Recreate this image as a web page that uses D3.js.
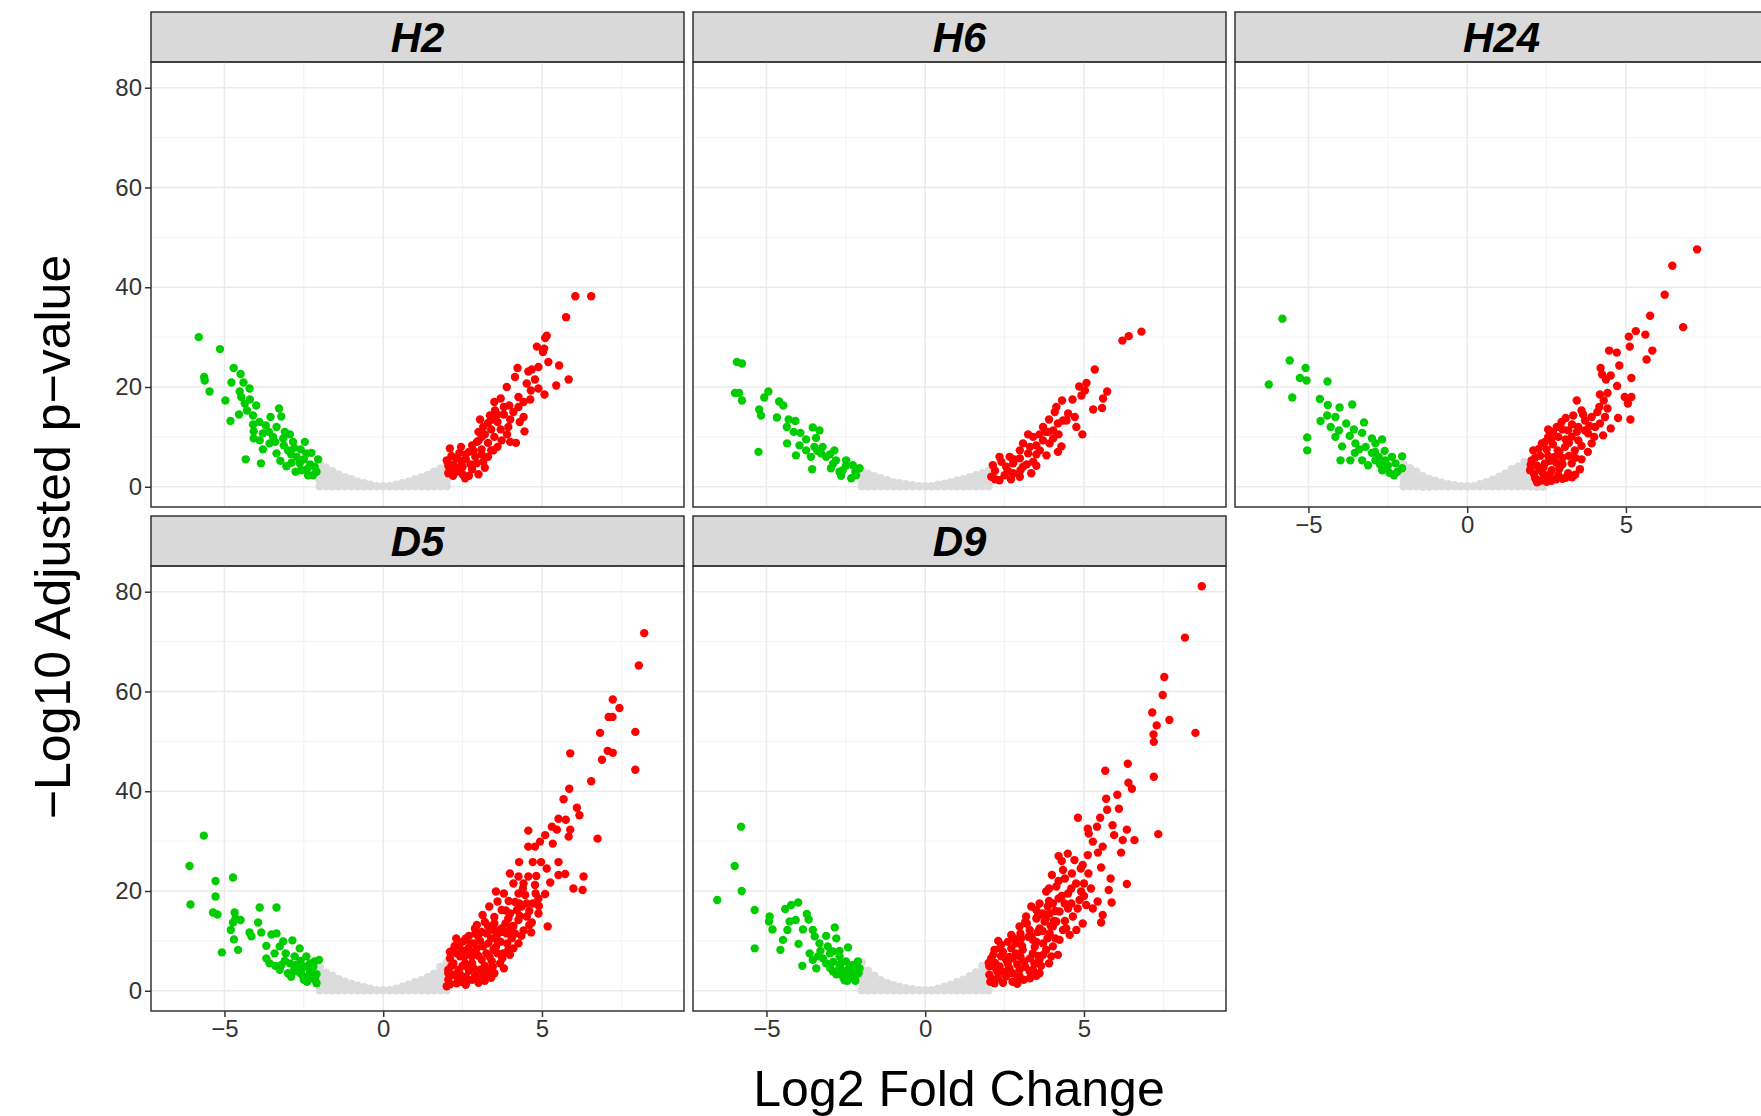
<!DOCTYPE html>
<html>
<head>
  <meta charset="UTF-8" />
  <title>Volcano plots</title>
  <style>
    body { margin: 0; background: #fff; }
    svg { display: block; font-family: "Liberation Sans", Arial, sans-serif; }
  </style>
</head>
<body>
<svg width="1761" height="1116"></svg>

<script src="https://cdn.jsdelivr.net/npm/d3@7"></script>
<script>
  // facet names, in plotting order
  const facets = ["H2", "H6", "H24", "D5", "D9"];

  const xTicks = [-5, 0, 5];
  const xMinor = [-7.5, -2.5, 2.5, 7.5];
  const yTicks = [0, 20, 40, 60, 80];
  const yMinor = [10, 30, 50, 70];

  // [log2FC, -log10 padj]
  const h2Down = [[-5.81,30.0],[-5.14,27.6],[-5.64,22.0],[-5.62,21.3],[-5.47,19.1],[-4.71,23.8],[-4.49,22.6],[-4.78,20.9],[-4.4,20.9],[-4.21,19.7],[-4.52,19.1],[-4.97,17.3],[-4.47,18.0],[-4.36,16.7],[-4.0,16.3],[-4.29,15.3],[-4.54,14.5],[-4.81,13.2],[-4.1,14.3],[-3.28,15.7],[-3.21,14.1],[-3.55,14.0],[-4.1,12.5],[-3.7,12.3],[-3.36,12.0],[-4.08,11.1],[-3.79,10.7],[-2.94,10.5],[-4.08,9.7],[-3.47,10.0],[-3.79,7.5],[-4.33,5.5],[-3.85,4.7],[-2.47,9.0],[-2.84,9.0],[-3.13,8.3],[-3.36,6.7],[-3.24,5.2],[-3.05,4.1],[-2.73,6.0],[-2.42,6.7],[-2.26,6.8],[-2.05,5.5],[-2.16,4.0],[-2.58,3.3],[-2.37,2.3],[-2.76,3.0],[-2.21,2.3],[-2.89,4.8],[-2.63,4.7],[-3.58,8.7],[-3.89,9.3],[-3.0,7.3],[-3.15,9.7],[-2.5,5.5],[-2.3,4.5],[-2.1,3.0],[-2.6,7.5],[-2.9,6.5],[-3.1,11.0],[-3.6,11.0],[-3.9,13.0],[-4.2,17.5],[-2.4,3.5],[-2.8,7.8],[-3.4,9.0]];
  const h2Up = [[6.05,38.2],[6.55,38.2],[5.76,34.0],[5.15,30.3],[5.1,29.8],[4.84,28.1],[5.07,27.7],[5.03,27.0],[5.2,25.0],[5.54,24.3],[4.23,23.8],[4.89,24.0],[4.68,23.5],[4.57,23.1],[4.15,22.0],[4.78,21.5],[5.84,21.5],[4.52,20.7],[3.89,20.0],[4.89,19.7],[4.65,19.3],[5.45,20.3],[5.08,18.5],[4.26,18.0],[3.7,17.7],[4.63,17.5],[4.42,17.0],[3.97,16.3],[4.26,16.0],[3.52,15.3],[4.1,15.0],[4.42,14.0],[3.36,14.3],[3.05,13.5],[3.94,12.0],[4.45,11.1],[4.18,8.8],[3.73,9.3],[3.47,7.3],[3.0,2.5],[2.58,1.7],[2.94,4.7],[2.1,7.7],[2.0,5.3],[2.05,2.7],[2.1,3.5],[2.2,4.5],[2.3,5.8],[2.4,6.8],[2.3,3.0],[2.5,4.0],[2.6,5.5],[2.7,7.0],[2.5,2.5],[2.8,3.5],[2.9,6.0],[2.8,8.3],[3.0,9.2],[3.1,7.5],[3.2,10.5],[3.3,8.8],[3.4,11.5],[3.5,10.0],[3.6,13.0],[3.7,11.5],[3.8,14.5],[3.3,6.0],[3.6,8.0],[3.9,10.5],[4.0,13.5],[3.15,5.0],[2.7,2.2],[2.2,2.2],[2.45,8.0],[3.0,11.0],[3.5,17.0],[3.8,16.0],[4.3,13.0],[4.0,9.0],[3.2,3.8],[2.05,4.2],[2.15,6.2],[2.35,3.8],[2.45,5.2],[2.6,6.5],[2.75,4.5],[2.85,7.2],[2.95,9.0],[3.1,10.0],[3.15,12.0],[3.3,12.8],[3.45,13.5],[3.6,14.5],[3.1,6.5],[3.4,7.3]];
  const h2NS = [[-2.0,0.1],[-2.0,1.3],[-2.0,2.5],[-2.0,3.6],[-2.0,4.7],[-1.8,0.1],[-1.8,1.3],[-1.8,2.6],[-1.8,3.8],[-1.6,0.1],[-1.6,1.2],[-1.6,2.2],[-1.6,3.1],[-1.4,0.1],[-1.4,1.2],[-1.4,2.4],[-1.2,0.1],[-1.2,1.0],[-1.2,1.9],[-1.0,0.1],[-1.0,0.8],[-1.0,1.5],[-0.8,0.1],[-0.8,1.0],[-0.6,0.1],[-0.6,0.7],[-0.4,0.1],[-0.4,0.4],[-0.2,0.1],[0,0.1],[0.2,0.1],[0.4,0.1],[0.4,0.4],[0.6,0.1],[0.6,0.7],[0.8,0.1],[0.8,1.0],[1.0,0.1],[1.0,0.8],[1.0,1.5],[1.2,0.1],[1.2,1.0],[1.2,1.9],[1.4,0.1],[1.4,1.2],[1.4,2.3],[1.6,0.1],[1.6,1.1],[1.6,2.1],[1.6,3.0],[1.8,0.1],[1.8,1.3],[1.8,2.5],[1.8,3.6],[2.0,0.1],[2.0,1.3],[2.0,2.5],[2.0,3.5],[2.0,4.4]];

  const h6Down = [[-5.93,25.0],[-5.77,24.7],[-5.99,18.8],[-5.86,18.8],[-5.77,17.3],[-4.94,19.1],[-5.07,17.9],[-5.23,15.5],[-5.17,14.3],[-4.6,17.1],[-4.47,16.3],[-4.67,13.9],[-4.3,13.5],[-4.09,13.2],[-4.36,12.0],[-4.14,11.0],[-3.93,10.8],[-3.54,11.9],[-3.33,11.3],[-3.44,9.8],[-4.35,8.7],[-3.96,8.3],[-5.25,7.0],[-4.07,6.3],[-3.75,7.3],[-3.6,6.0],[-3.56,3.5],[-3.23,8.0],[-3.12,6.0],[-2.86,7.3],[-2.81,5.3],[-2.97,3.7],[-2.49,5.3],[-2.6,3.3],[-2.28,4.3],[-2.07,3.7],[-2.33,1.7],[-2.18,2.3],[-2.7,3.0],[-3.28,6.7],[-3.49,8.0],[-2.5,4.2],[-2.9,4.6],[-3.0,6.5],[-2.2,3.0],[-2.65,2.2],[-3.4,7.2],[-3.75,9.5]];
  const h6Up = [[6.81,31.1],[6.41,30.2],[6.21,29.3],[5.34,23.5],[5.08,20.8],[4.85,20.1],[5.03,19.3],[5.73,19.1],[5.6,17.7],[4.92,18.3],[4.64,17.5],[4.31,17.3],[5.29,15.5],[5.57,15.8],[4.13,16.0],[4.08,15.0],[4.5,14.7],[4.71,14.0],[3.9,13.5],[4.34,13.3],[4.76,12.0],[3.71,12.0],[4.95,10.5],[4.03,11.3],[3.24,10.5],[3.4,10.0],[4.29,8.1],[4.18,7.0],[3.08,8.7],[2.98,7.3],[3.61,7.3],[3.82,6.3],[2.34,6.0],[2.66,6.0],[2.13,4.3],[2.08,2.0],[2.34,1.3],[3.34,2.7],[3.08,4.0],[2.77,2.7],[2.55,4.0],[3.4,5.0],[3.92,8.7],[3.71,9.3],[3.5,8.3],[2.98,5.7],[3.24,6.7],[2.77,4.7],[2.5,2.3],[2.98,2.0],[4.03,9.7],[4.18,12.7],[4.45,13.3],[3.87,11.0],[2.2,3.2],[2.4,5.0],[2.6,3.2],[2.8,5.5],[3.0,3.3],[3.2,4.5],[3.5,6.5],[3.3,8.0],[3.6,10.5],[3.8,11.0],[4.2,10.5],[2.2,1.5],[2.7,1.5],[3.5,4.2]];
  const h6NS = [[-2.0,0.1],[-2.0,1.2],[-2.0,2.2],[-2.0,3.2],[-1.8,0.1],[-1.8,1.3],[-1.8,2.6],[-1.6,0.1],[-1.6,1.1],[-1.6,2.1],[-1.4,0.1],[-1.4,0.9],[-1.4,1.7],[-1.2,0.1],[-1.2,0.8],[-1.2,1.3],[-1.0,0.1],[-1.0,0.9],[-0.8,0.1],[-0.8,0.7],[-0.6,0.1],[-0.6,0.5],[-0.4,0.1],[-0.4,0.3],[-0.2,0.1],[0,0.1],[0.2,0.1],[0.4,0.1],[0.4,0.4],[0.6,0.1],[0.6,0.6],[0.8,0.1],[0.8,0.9],[1.0,0.1],[1.0,1.2],[1.2,0.1],[1.2,0.9],[1.2,1.5],[1.4,0.1],[1.4,1.0],[1.4,1.9],[1.6,0.1],[1.6,1.2],[1.6,2.3],[1.8,0.1],[1.8,1.4],[1.8,2.7],[2.0,0.1],[2.0,1.2],[2.0,2.2],[2.0,3.2]];

  const h24Down = [[-5.82,33.7],[-5.59,25.3],[-5.09,23.8],[-5.27,21.8],[-5.06,21.3],[-6.25,20.5],[-4.4,21.1],[-5.51,17.9],[-4.64,17.6],[-4.39,16.4],[-4.02,15.9],[-3.62,16.5],[-4.41,14.3],[-4.15,14.0],[-4.62,13.2],[-4.3,12.0],[-3.81,12.7],[-3.25,12.9],[-3.57,11.5],[-4.04,11.3],[-5.04,9.9],[-5.04,7.3],[-4.15,10.0],[-3.94,8.1],[-3.31,10.8],[-3.0,9.7],[-2.68,9.5],[-3.52,8.7],[-3.2,8.0],[-2.89,8.7],[-3.54,6.8],[-3.99,5.3],[-3.68,5.3],[-3.31,5.3],[-3.12,4.3],[-2.79,6.0],[-2.58,5.3],[-2.37,6.0],[-2.05,6.1],[-2.68,3.3],[-2.31,2.3],[-2.05,3.7],[-2.26,4.7],[-2.89,5.3],[-2.5,4.2],[-2.2,3.0],[-2.45,2.8],[-2.75,4.5],[-3.0,6.8],[-3.4,7.5],[-2.6,7.2],[-2.9,7.0],[-3.7,10.2]];
  const h24Up = [[7.24,47.6],[6.46,44.3],[6.22,38.5],[5.76,34.3],[6.8,32.0],[5.31,31.2],[5.09,30.1],[5.61,30.5],[5.12,28.1],[5.83,27.3],[5.65,25.5],[4.47,27.3],[4.71,26.9],[4.79,24.3],[4.2,23.8],[4.25,22.5],[4.52,22.3],[5.17,21.8],[4.37,21.5],[4.72,20.2],[4.18,18.5],[4.42,18.8],[4.3,17.3],[4.96,18.0],[5.17,18.0],[5.06,16.7],[3.45,17.3],[4.16,16.0],[4.42,15.7],[4.75,13.8],[5.14,13.5],[3.6,15.3],[3.34,14.3],[4.34,14.0],[4.18,12.7],[4.52,11.7],[4.28,10.3],[3.92,8.7],[3.81,10.7],[2.97,13.0],[2.82,12.0],[3.55,3.5],[2.55,10.0],[2.35,8.7],[2.08,7.3],[2.03,5.3],[1.98,3.3],[2.14,1.7],[2.45,1.7],[2.87,2.3],[3.18,2.7],[3.29,4.7],[3.39,7.3],[3.08,8.0],[2.76,6.0],[2.45,4.7],[2.29,3.3],[2.66,3.3],[3.71,11.3],[3.18,11.3],[3.5,9.3],[4.03,12.0],[3.29,10.0],[2.87,10.0],[3.92,14.0],[3.71,13.3],[2.1,2.6],[2.2,4.2],[2.3,6.2],[2.5,7.5],[2.6,5.2],[2.7,8.5],[2.9,7.0],[3.0,4.5],[3.0,5.8],[2.6,2.4],[2.4,2.5],[2.9,3.6],[3.1,9.5],[3.3,12.5],[3.5,12.0],[2.2,0.9],[2.5,1.0],[2.8,1.5],[3.1,1.8],[3.4,2.4],[3.6,5.5],[3.8,7.0],[4.0,10.0],[2.45,9.0],[2.7,11.0],[2.0,4.4],[2.15,5.9],[2.25,7.6],[2.4,3.8],[2.55,6.2],[2.65,9.5],[2.8,4.8],[2.85,7.3],[3.0,11.5],[3.2,6.2],[3.2,8.8],[3.4,5.8],[3.45,11.0],[3.6,8.2],[3.85,12.2],[2.3,1.2],[2.65,1.2],[3.0,1.6],[3.3,1.9],[2.55,11.5],[3.1,13.8],[4.1,15.0],[3.65,14.5]];
  const h24NS = [[-2.0,0.1],[-2.0,1.2],[-2.0,2.3],[-2.0,3.4],[-2.0,4.5],[-1.8,0.1],[-1.8,1.3],[-1.8,2.5],[-1.8,3.7],[-1.6,0.1],[-1.6,1.1],[-1.6,2.1],[-1.6,3.0],[-1.4,0.0],[-1.4,1.0],[-1.4,2.1],[-1.2,0.0],[-1.2,0.8],[-1.2,1.6],[-1.0,0.1],[-1.0,1.2],[-0.8,0.1],[-0.8,0.8],[-0.6,0.1],[-0.6,0.5],[-0.4,0.1],[-0.4,0.3],[-0.2,0.1],[0,0.1],[0.2,0.1],[0.4,0.1],[0.4,0.5],[0.6,0.1],[0.6,0.9],[0.8,0.1],[0.8,1.4],[1.0,0.1],[1.0,1.0],[1.0,2.0],[1.2,0.1],[1.2,1.3],[1.2,2.6],[1.4,0.1],[1.4,1.3],[1.4,2.5],[1.4,3.5],[1.6,0.1],[1.6,1.3],[1.6,2.6],[1.6,4.0],[1.8,0.1],[1.8,1.3],[1.8,2.6],[1.8,3.9],[1.8,5.0],[2.0,0.1],[2.0,1.3],[2.2,0.0],[2.4,0.0]];

  const d5Down = [[-5.65,31.1],[-6.1,25.0],[-5.28,22.0],[-4.73,22.7],[-5.28,18.9],[-6.07,17.3],[-5.36,15.7],[-5.22,15.3],[-3.89,16.7],[-3.36,16.7],[-4.68,15.7],[-4.65,14.5],[-4.49,14.2],[-4.73,13.7],[-3.94,13.7],[-4.8,12.2],[-4.21,11.7],[-4.15,10.9],[-3.84,11.7],[-3.52,11.3],[-3.36,11.5],[-4.7,10.3],[-5.08,7.7],[-4.57,8.2],[-3.68,9.0],[-3.15,9.9],[-2.86,10.1],[-3.26,8.9],[-2.63,8.5],[-3.68,6.5],[-3.42,7.5],[-3.07,7.5],[-2.79,6.9],[-2.42,6.9],[-2.16,5.9],[-2.02,6.2],[-3.58,5.5],[-3.26,4.2],[-3.0,3.5],[-2.73,3.9],[-2.52,2.9],[-2.26,2.5],[-2.1,1.5],[-2.42,4.9],[-2.73,5.2],[-2.94,5.5],[-2.3,3.8],[-2.55,4.5],[-2.8,5.0],[-2.2,4.8],[-2.6,6.0],[-3.1,6.0],[-2.9,2.8],[-2.4,1.8],[-3.4,5.0],[-2.15,2.3],[-2.35,3.0],[-2.6,3.5],[-2.5,2.2],[-2.1,3.3],[-2.3,5.5],[-2.8,4.2],[-3.2,5.2]];
  const d5Up = [[8.22,71.7],[8.05,65.2],[7.23,58.4],[7.44,56.7],[7.1,54.9],[7.22,54.9],[7.94,51.9],[6.83,51.7],[7.07,48.1],[7.23,47.7],[6.89,46.3],[5.89,47.6],[7.94,44.3],[6.55,42.0],[5.86,40.5],[5.68,38.4],[6.1,36.7],[6.18,35.2],[5.52,34.5],[5.75,34.3],[4.57,32.1],[5.31,32.9],[5.47,32.3],[5.89,32.3],[5.84,30.9],[5.1,31.2],[6.75,30.5],[5.34,29.5],[4.57,28.9],[4.78,28.9],[4.94,29.9],[4.28,25.8],[4.71,25.8],[4.97,25.8],[5.52,25.8],[5.15,24.5],[3.99,23.5],[4.26,22.9],[4.57,22.9],[4.82,23.0],[5.52,23.2],[5.73,23.4],[6.31,22.9],[5.26,21.7],[4.1,21.5],[4.42,21.5],[4.78,21.2],[5.99,20.5],[6.28,20.2],[3.55,19.9],[4.26,19.5],[4.47,19.2],[5.1,19.4],[4.89,18.5],[3.6,17.9],[4.29,17.5],[4.71,17.5],[3.34,16.9],[3.86,16.1],[4.36,16.9],[4.89,15.5],[3.13,15.2],[3.94,14.5],[4.26,14.2],[4.68,13.7],[5.18,12.9],[3.5,13.5],[3.73,12.5],[4.05,12.9],[4.42,12.1],[4.66,11.7],[2.89,12.5],[3.26,11.5],[3.57,10.9],[4.05,10.5],[4.26,9.5],[3.99,7.2],[3.94,8.2],[2.52,9.9],[2.84,9.5],[3.15,8.9],[3.47,8.2],[3.78,7.5],[2.21,8.2],[2.1,6.5],[2.42,6.9],[2.79,6.9],[3.1,6.2],[3.42,5.9],[3.68,5.5],[2.05,4.2],[2.37,4.2],[2.68,4.5],[3.05,4.2],[3.36,3.9],[2.05,2.2],[2.31,1.5],[2.63,1.9],[2.94,2.5],[3.15,2.9],[2.47,2.9],[2.21,5.5],[2.58,5.5],[2.89,7.9],[3.31,9.5],[3.89,11.5],[3.47,12.2],[2.99,10.9],[2.68,8.5],[4.15,11.5],[4.52,14.9],[4.21,16.2],[3.73,16.2],[4.52,17.5],[2.2,3.2],[2.15,5.0],[2.3,7.5],[2.4,3.5],[2.5,8.0],[2.55,6.8],[2.6,2.8],[2.7,4.0],[2.75,9.5],[2.8,5.5],[2.9,3.0],[3.0,7.0],[3.05,10.0],[3.2,5.0],[3.25,7.5],[3.3,3.0],[3.4,10.5],[3.55,8.8],[3.6,12.0],[3.7,9.8],[3.85,13.5],[3.3,13.0],[2.9,11.5],[2.6,10.5],[2.4,9.0],[2.1,1.3],[2.45,1.8],[2.8,2.2],[3.2,2.0],[3.5,3.5],[3.75,6.5],[3.9,9.5],[4.1,13.0],[4.3,15.0],[3.95,18.0],[4.6,16.0],[4.8,19.5],[4.4,20.5],[3.8,19.5],[2.05,3.5],[2.1,7.8],[2.25,9.0],[2.35,2.5],[2.5,5.0],[2.65,7.5],[2.7,11.0],[2.85,4.5],[2.95,8.5],[3.1,11.8],[3.15,3.5],[3.35,6.8],[3.45,4.8],[3.6,7.5],[3.6,10.0],[3.75,11.8],[3.95,12.0],[4.0,15.5],[4.15,17.8],[3.5,14.8],[3.2,13.8],[2.95,13.2],[2.3,10.5],[2.0,0.9],[2.6,1.2],[3.0,1.6],[3.4,2.6],[3.8,4.5],[4.1,8.5],[4.35,11.0],[4.6,13.2],[4.9,17.0]];
  const d5NS = [[-2.0,0.1],[-2.0,1.3],[-2.0,2.5],[-2.0,3.6],[-2.0,4.7],[-1.8,0.1],[-1.8,1.2],[-1.8,2.4],[-1.8,3.6],[-1.6,0.1],[-1.6,1.1],[-1.6,2.1],[-1.6,3.0],[-1.4,0.1],[-1.4,1.2],[-1.4,2.3],[-1.2,0.1],[-1.2,1.0],[-1.2,1.8],[-1.0,0.1],[-1.0,0.8],[-1.0,1.4],[-0.8,0.1],[-0.8,1.0],[-0.6,0.1],[-0.6,0.7],[-0.4,0.1],[-0.4,0.4],[-0.2,0.1],[0,0.1],[0.2,0.1],[0.4,0.1],[0.4,0.4],[0.6,0.1],[0.6,0.8],[0.8,0.1],[0.8,1.2],[1.0,0.1],[1.0,0.9],[1.0,1.7],[1.2,0.1],[1.2,1.1],[1.2,2.1],[1.4,0.1],[1.4,1.4],[1.4,2.7],[1.6,0.1],[1.6,1.2],[1.6,2.3],[1.6,3.4],[1.8,0.1],[1.8,1.3],[1.8,2.6],[1.8,3.9],[1.8,4.8],[2.0,0.1],[2.0,1.5],[2.0,3.0],[2.0,4.4],[2.0,5.7]];

  const d9Down = [[-5.8,32.9],[-6.0,25.0],[-5.78,20.0],[-6.55,18.2],[-5.37,16.2],[-4.9,14.9],[-4.92,13.9],[-4.81,12.3],[-4.41,16.4],[-4.22,17.2],[-4.0,17.7],[-3.73,15.4],[-3.67,14.3],[-4.27,13.9],[-4.08,14.2],[-3.85,12.3],[-4.34,12.2],[-4.48,10.2],[-5.37,8.5],[-4.56,8.2],[-3.99,9.4],[-3.54,12.2],[-3.48,10.9],[-3.12,11.0],[-2.85,12.7],[-2.8,10.5],[-3.33,9.5],[-3.07,8.9],[-3.64,7.5],[-3.38,6.9],[-2.91,7.9],[-2.43,8.7],[-2.7,6.9],[-3.87,5.0],[-3.43,4.5],[-3.12,5.5],[-2.91,3.9],[-2.5,5.9],[-2.28,5.2],[-2.12,5.9],[-2.6,2.9],[-2.33,3.5],[-2.07,4.5],[-2.54,2.1],[-2.23,2.5],[-3.54,6.2],[-3.22,6.5],[-2.2,3.2],[-2.4,4.5],[-2.7,4.8],[-2.9,5.8],[-2.45,2.0],[-3.0,7.5],[-3.3,8.0],[-2.7,8.0],[-2.2,2.0],[-2.3,2.8],[-2.5,3.3],[-2.1,3.5],[-2.35,4.2],[-2.6,4.0],[-2.8,3.3],[-3.0,4.6],[-2.65,5.5],[-2.15,4.8]];
  const d9Up = [[8.71,81.1],[8.18,70.8],[7.53,62.9],[7.48,59.3],[7.15,55.8],[7.69,54.3],[7.29,53.2],[7.19,51.4],[7.2,49.9],[8.51,51.7],[6.38,45.5],[5.67,44.1],[7.2,42.9],[6.4,41.7],[6.51,40.5],[5.7,38.5],[6.05,39.3],[5.73,36.3],[6.1,36.5],[4.81,34.7],[5.51,34.7],[5.41,32.9],[5.12,32.5],[5.9,33.2],[6.35,32.3],[7.34,31.4],[5.95,31.2],[6.22,30.2],[6.59,30.2],[5.15,31.5],[5.28,29.9],[5.59,28.9],[5.44,27.7],[6.17,27.7],[5.12,27.2],[4.2,27.0],[4.49,27.5],[4.7,26.2],[4.34,24.2],[4.96,25.2],[5.54,24.7],[3.99,23.2],[4.62,23.5],[5.14,23.5],[5.84,22.5],[5.78,20.2],[6.35,21.4],[3.81,19.9],[4.13,20.9],[4.6,20.5],[4.91,19.9],[5.22,20.5],[5.43,17.9],[5.87,17.7],[3.6,17.5],[4.02,17.5],[4.39,17.5],[4.86,18.2],[5.07,17.2],[3.34,16.9],[3.92,15.5],[4.23,15.9],[4.65,14.9],[5.28,16.5],[5.59,15.2],[5.54,13.7],[4.96,13.5],[3.18,14.9],[3.5,14.5],[3.76,13.9],[4.13,13.9],[4.44,12.5],[4.55,11.2],[2.97,12.9],[3.29,12.2],[3.6,12.5],[3.92,11.5],[4.23,10.2],[2.71,11.2],[3.02,10.5],[3.39,10.2],[3.71,9.5],[4.02,8.9],[4.18,7.2],[3.97,6.9],[2.39,9.2],[2.71,8.5],[3.07,8.2],[3.39,7.5],[3.71,7.2],[2.18,8.2],[2.08,6.5],[2.39,6.9],[2.76,6.5],[3.12,5.9],[3.44,5.5],[2.02,4.9],[2.34,4.9],[2.65,4.5],[2.97,4.2],[3.29,3.9],[2.02,3.2],[2.29,2.5],[2.55,2.9],[2.92,2.5],[2.18,1.5],[2.97,2.9],[3.39,4.2],[3.6,6.2],[3.81,8.2],[2.86,7.5],[2.55,6.2],[2.24,4.2],[4.34,12.2],[4.76,12.2],[4.02,12.9],[3.86,16.9],[3.5,16.2],[2.1,2.3],[2.3,3.5],[2.2,5.6],[2.45,7.8],[2.6,5.4],[2.75,3.5],[2.85,9.5],[3.0,6.8],[3.15,4.8],[3.25,10.8],[3.45,8.8],[3.55,11.8],[3.2,13.5],[3.0,11.5],[2.6,9.8],[2.35,8.5],[2.45,1.6],[2.75,1.8],[3.1,2.2],[3.5,3.0],[3.65,5.0],[3.85,10.5],[4.05,14.0],[3.7,15.5],[4.2,18.5],[4.5,16.5],[4.75,21.5],[4.4,22.5],[4.9,24.5],[3.9,20.5],[4.3,26.0],[5.0,21.5],[2.05,1.8],[2.0,5.6],[2.15,7.3],[2.3,10.0],[2.5,3.8],[2.65,6.8],[2.8,10.5],[2.9,5.3],[3.05,9.0],[3.15,13.8],[3.3,6.5],[3.35,11.0],[3.5,9.8],[3.55,7.0],[3.7,12.0],[3.8,14.5],[3.95,13.0],[4.1,16.0],[4.3,19.0],[3.9,18.0],[3.55,15.0],[2.9,1.4],[3.3,2.5],[3.6,3.5],[3.9,5.5],[4.1,10.5],[4.4,14.0],[4.6,17.5],[4.8,16.5],[5.0,19.0],[4.5,19.5],[4.2,22.0]];
  const d9NS = [[-2.0,0.1],[-2.0,1.5],[-2.0,2.9],[-2.0,4.3],[-2.0,5.7],[-1.8,0.1],[-1.8,1.4],[-1.8,2.7],[-1.8,4.0],[-1.6,0.1],[-1.6,1.1],[-1.6,2.1],[-1.6,3.0],[-1.4,0.1],[-1.4,1.1],[-1.4,2.1],[-1.2,0.1],[-1.2,0.9],[-1.2,1.5],[-1.0,0.1],[-1.0,1.1],[-0.8,0.1],[-0.8,0.8],[-0.6,0.1],[-0.6,0.5],[-0.4,0.1],[-0.4,0.3],[-0.2,0.1],[0,0.1],[0.2,0.1],[0.4,0.1],[0.4,0.4],[0.6,0.1],[0.6,0.8],[0.8,0.1],[0.8,1.2],[1.0,0.1],[1.0,0.9],[1.0,1.7],[1.2,0.1],[1.2,1.2],[1.2,2.2],[1.4,0.1],[1.4,1.5],[1.4,2.9],[1.6,0.1],[1.6,1.3],[1.6,2.5],[1.6,3.7],[1.8,0.1],[1.8,1.4],[1.8,2.7],[1.8,4.0],[1.8,5.0],[2.0,0.1],[2.0,1.5],[2.0,3.0]];

  const downSets = [h2Down, h6Down, h24Down, d5Down, d9Down];
  const upSets = [h2Up, h6Up, h24Up, d5Up, d9Up];
  const nsSets = [h2NS, h6NS, h24NS, d5NS, d9NS];

  const svg = d3.select("svg");

  const panelW = 533, panelH = 445, stripH = 50;
  const colLeft = [151, 693, 1235];
  const rowTop = [12, 516];
  const dotR = 4.2;

  // shared scales, padded 5% like ggplot
  const allPts = [].concat(...downSets, ...upSets, ...nsSets);
  const xExt = d3.extent(allPts, d => d[0]);
  const yExt = d3.extent(allPts, d => d[1]);
  const xPad = (xExt[1] - xExt[0]) * 0.05;
  const yPad = (yExt[1] - yExt[0]) * 0.05;
  const x = d3.scaleLinear().domain([xExt[0] - xPad, xExt[1] + xPad]).range([0, panelW]);
  const y = d3.scaleLinear().domain([yExt[0] - yPad, yExt[1] + yPad]).range([panelH, 0]);

  facets.forEach((name, i) => {
    const col = i % 3, row = Math.floor(i / 3);
    const g = svg.append("g").attr("transform", `translate(${colLeft[col]},${rowTop[row]})`);

    // strip
    g.append("rect")
      .attr("width", panelW).attr("height", stripH)
      .attr("fill", "#d9d9d9").attr("stroke", "#333").attr("stroke-width", 1.5);
    g.append("text")
      .attr("x", panelW / 2).attr("y", stripH / 2).attr("dy", "0.36em")
      .attr("text-anchor", "middle")
      .attr("font-size", 42).attr("font-weight", "bold").attr("font-style", "italic")
      .text(name);

    const p = g.append("g").attr("transform", `translate(0,${stripH})`);

    // grid
    p.selectAll(".vmin").data(xMinor).join("line")
      .attr("x1", d => x(d)).attr("x2", d => x(d)).attr("y1", 0).attr("y2", panelH)
      .attr("stroke", "#f2f2f2").attr("stroke-width", 1);
    p.selectAll(".hmin").data(yMinor).join("line")
      .attr("y1", d => y(d)).attr("y2", d => y(d)).attr("x1", 0).attr("x2", panelW)
      .attr("stroke", "#f2f2f2").attr("stroke-width", 1);
    p.selectAll(".vmaj").data(xTicks).join("line")
      .attr("x1", d => x(d)).attr("x2", d => x(d)).attr("y1", 0).attr("y2", panelH)
      .attr("stroke", "#ebebeb").attr("stroke-width", 1.5);
    p.selectAll(".hmaj").data(yTicks).join("line")
      .attr("y1", d => y(d)).attr("y2", d => y(d)).attr("x1", 0).attr("x2", panelW)
      .attr("stroke", "#ebebeb").attr("stroke-width", 1.5);

    // points: not significant, down, up
    const layers = [[nsSets[i], "#dcdcdc"], [downSets[i], "#00cd00"], [upSets[i], "#ff0000"]];
    layers.forEach(([pts, colr]) => {
      p.append("g").selectAll("circle").data(pts).join("circle")
        .attr("cx", d => x(d[0])).attr("cy", d => y(d[1]))
        .attr("r", dotR).attr("fill", colr);
    });

    // border
    p.append("rect")
      .attr("width", panelW).attr("height", panelH)
      .attr("fill", "none").attr("stroke", "#333").attr("stroke-width", 1.5);

    // axes
    if (col === 0) {
      const ay = p.append("g").call(d3.axisLeft(y).tickValues(yTicks).tickSize(6).tickPadding(3));
      styleAxis(ay);
    }
    if (i >= 2) {
      const ax = p.append("g").attr("transform", `translate(0,${panelH})`)
        .call(d3.axisBottom(x).tickValues(xTicks).tickSize(6).tickPadding(3));
      styleAxis(ax);
    }
  });

  function styleAxis(a) {
    a.select(".domain").remove();
    a.selectAll(".tick line").attr("stroke", "#333").attr("stroke-width", 1.5);
    a.selectAll(".tick text").attr("font-size", 24).attr("fill", "#333")
      .attr("font-family", "Liberation Sans, Arial, sans-serif");
  }

  // axis titles
  svg.append("text")
    .attr("x", 959).attr("y", 1106)
    .attr("text-anchor", "middle").attr("font-size", 50)
    .text("Log2 Fold Change");

  svg.append("text")
    .attr("transform", "translate(70,537) rotate(-90)")
    .attr("text-anchor", "middle").attr("font-size", 50)
    .text("\u2212Log10 Adjusted p\u2212value");
</script>
</body>
</html>
